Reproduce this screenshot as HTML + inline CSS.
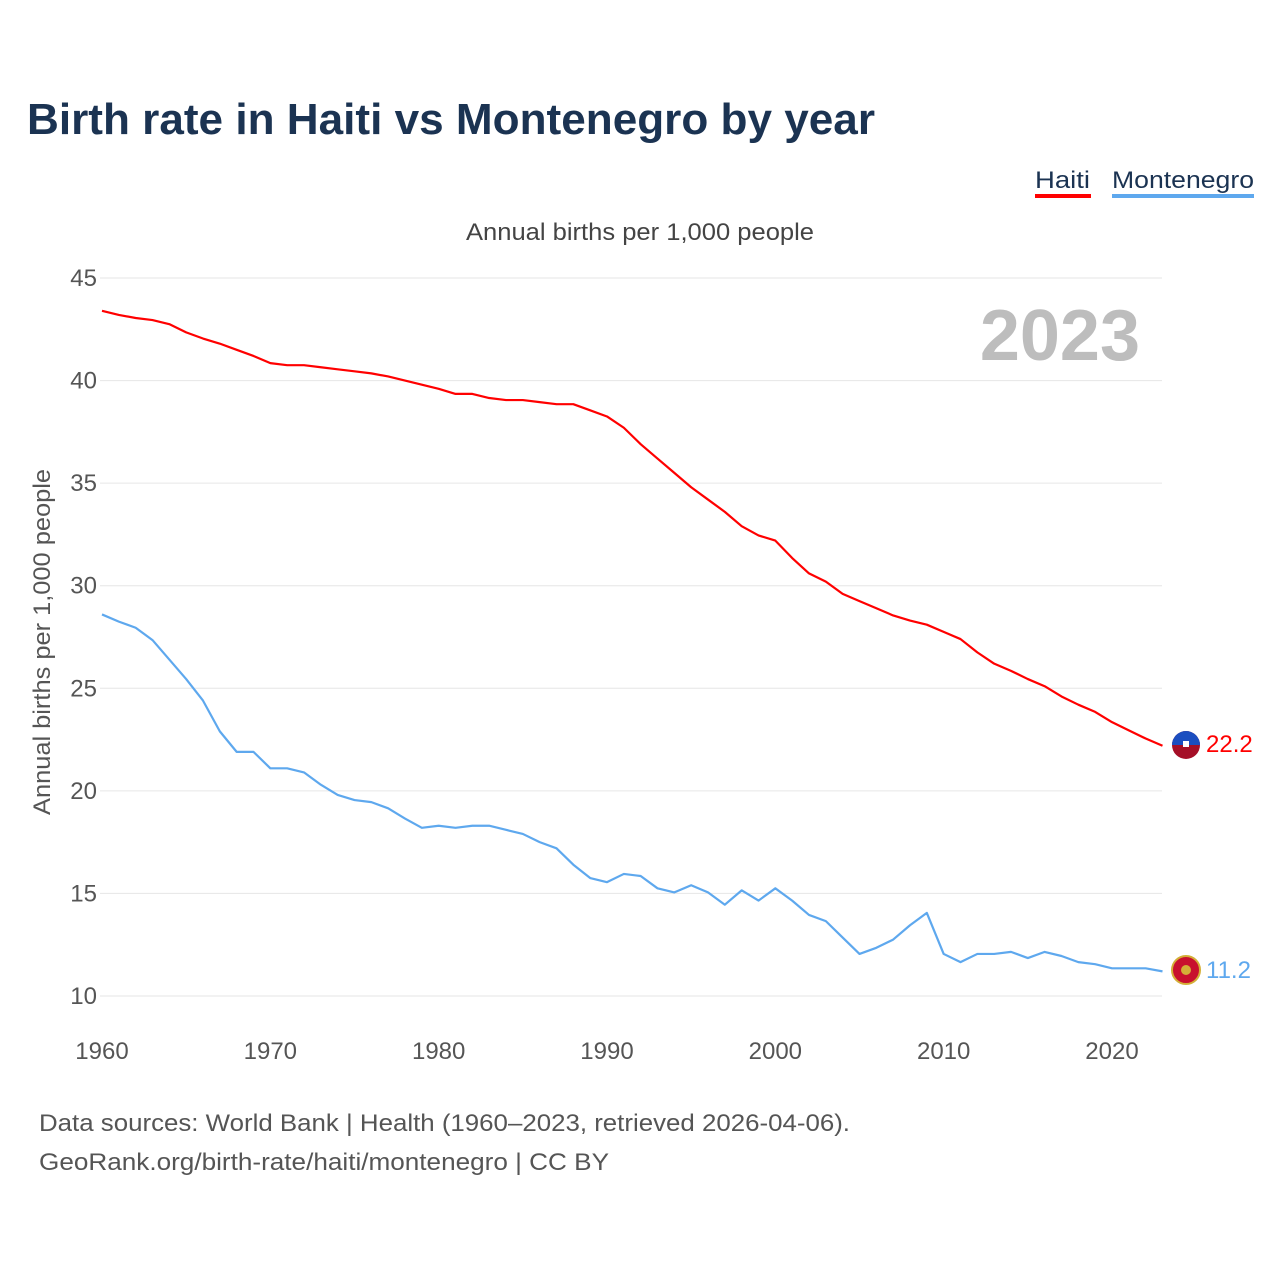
<!DOCTYPE html>
<html><head><meta charset="utf-8"><style>
body{margin:0;background:#fff;font-family:"Liberation Sans",sans-serif}
svg text{font-family:"Liberation Sans",sans-serif}
</style></head><body>
<svg id="chart" width="1280" height="1280" viewBox="0 0 1280 1280">
<text x="27" y="134" font-size="44" font-weight="bold" fill="#1b3352" textLength="848" lengthAdjust="spacingAndGlyphs">Birth rate in Haiti vs Montenegro by year</text>
<g>
<text x="1035" y="188" font-size="24" fill="#1b3352" textLength="55" lengthAdjust="spacingAndGlyphs">Haiti</text>
<rect x="1035" y="194" width="56" height="4" fill="#ff0000"/>
<text x="1112" y="188" font-size="24" fill="#1b3352" textLength="142" lengthAdjust="spacingAndGlyphs">Montenegro</text>
<rect x="1112" y="194" width="142" height="4" fill="#5ea8ee"/>
</g>
<text x="466" y="240" font-size="24" fill="#444" textLength="348" lengthAdjust="spacingAndGlyphs">Annual births per 1,000 people</text>
<text x="1140" y="360" font-size="72" font-weight="bold" fill="#bdbdbd" text-anchor="end">2023</text>
<text transform="translate(50,815) rotate(-90)" font-size="24" fill="#555" textLength="346" lengthAdjust="spacingAndGlyphs">Annual births per 1,000 people</text>
<g id="grid"></g><g id="lines"></g>
<g>
<circle cx="1186" cy="745" r="14" fill="#a50f27"/><path d="M1172 745 A14 14 0 0 1 1200 745 Z" fill="#1b4ec0"/><rect x="1183" y="741" width="6" height="6" fill="#fff"/>
</g>
<g>
<circle cx="1186" cy="970" r="14" fill="#c8102e" stroke="#d4af37" stroke-width="2"/><circle cx="1186" cy="970" r="5" fill="#d4af37"/>
</g>
<text x="1206" y="752" font-size="24" fill="#ff0000">22.2</text>
<text x="1206" y="978" font-size="24" fill="#5ea8ee">11.2</text>
<text x="39" y="1131" font-size="24" fill="#555" textLength="811" lengthAdjust="spacingAndGlyphs">Data sources: World Bank | Health (1960–2023, retrieved 2026-04-06).</text>
<text x="39" y="1170" font-size="24" fill="#555" textLength="570" lengthAdjust="spacingAndGlyphs">GeoRank.org/birth-rate/haiti/montenegro | CC BY</text>
</svg>
<script>
const years=[];for(let y=1960;y<=2023;y++)years.push(y);
const haiti=[43.4,43.2,43.05,42.95,42.75,42.35,42.05,41.8,41.5,41.2,40.85,40.75,40.75,40.65,40.55,40.45,40.35,40.2,40.0,39.8,39.6,39.35,39.35,39.15,39.05,39.05,38.95,38.85,38.85,38.55,38.25,37.7,36.9,36.2,35.5,34.8,34.2,33.6,32.9,32.45,32.2,31.35,30.6,30.2,29.6,29.25,28.9,28.55,28.3,28.1,27.75,27.4,26.75,26.2,25.85,25.45,25.1,24.6,24.2,23.85,23.35,22.95,22.55,22.2];
const montenegro=[28.6,28.25,27.95,27.35,26.4,25.45,24.4,22.9,21.9,21.9,21.1,21.1,20.9,20.3,19.8,19.55,19.45,19.15,18.65,18.2,18.3,18.2,18.3,18.3,18.1,17.9,17.5,17.2,16.4,15.75,15.55,15.95,15.85,15.25,15.05,15.4,15.05,14.45,15.15,14.65,15.25,14.65,13.95,13.65,12.85,12.05,12.35,12.75,13.45,14.05,12.05,11.65,12.05,12.05,12.15,11.85,12.15,11.95,11.65,11.55,11.35,11.35,11.35,11.2];
const yTicks=[10,15,20,25,30,35,40,45];
const xTicks=[1960,1970,1980,1990,2000,2010,2020];
const NS="http://www.w3.org/2000/svg";
const xs=y=>102+(y-1960)*(1010/60);
const ys=v=>996-(v-10)*(718/35);
const grid=document.getElementById('grid'),lines=document.getElementById('lines');
yTicks.forEach(t=>{
 const l=document.createElementNS(NS,'line');
 l.setAttribute('x1',100);l.setAttribute('x2',1162);l.setAttribute('y1',ys(t));l.setAttribute('y2',ys(t));
 l.setAttribute('stroke','#e6e6e6');l.setAttribute('stroke-width','1');
 
 
 grid.appendChild(l);
 const tx=document.createElementNS(NS,'text');
 tx.setAttribute('x',97);tx.setAttribute('y',ys(t)+8);tx.setAttribute('text-anchor','end');
 tx.setAttribute('font-size','24');tx.setAttribute('fill','#555');tx.textContent=t;
 
 
 grid.appendChild(tx);
});
xTicks.forEach(t=>{
 const tx=document.createElementNS(NS,'text');
 tx.setAttribute('x',xs(t));tx.setAttribute('y',1059);tx.setAttribute('text-anchor','middle');
 tx.setAttribute('font-size','24');tx.setAttribute('fill','#555');tx.textContent=t;
 
 
 grid.appendChild(tx);
});
function draw(vals,color,name){
 const p=document.createElementNS(NS,'polyline');
 p.setAttribute('points',vals.map((v,i)=>xs(years[i])+','+ys(v)).join(' '));
 p.setAttribute('fill','none');p.setAttribute('stroke',color);p.setAttribute('stroke-width','2.2');
 p.setAttribute('stroke-linejoin','round');
 
 
 lines.appendChild(p);
}
draw(haiti,'#ff0000','haiti-line');
draw(montenegro,'#5ea8ee','montenegro-line');
</script>
</body></html>
